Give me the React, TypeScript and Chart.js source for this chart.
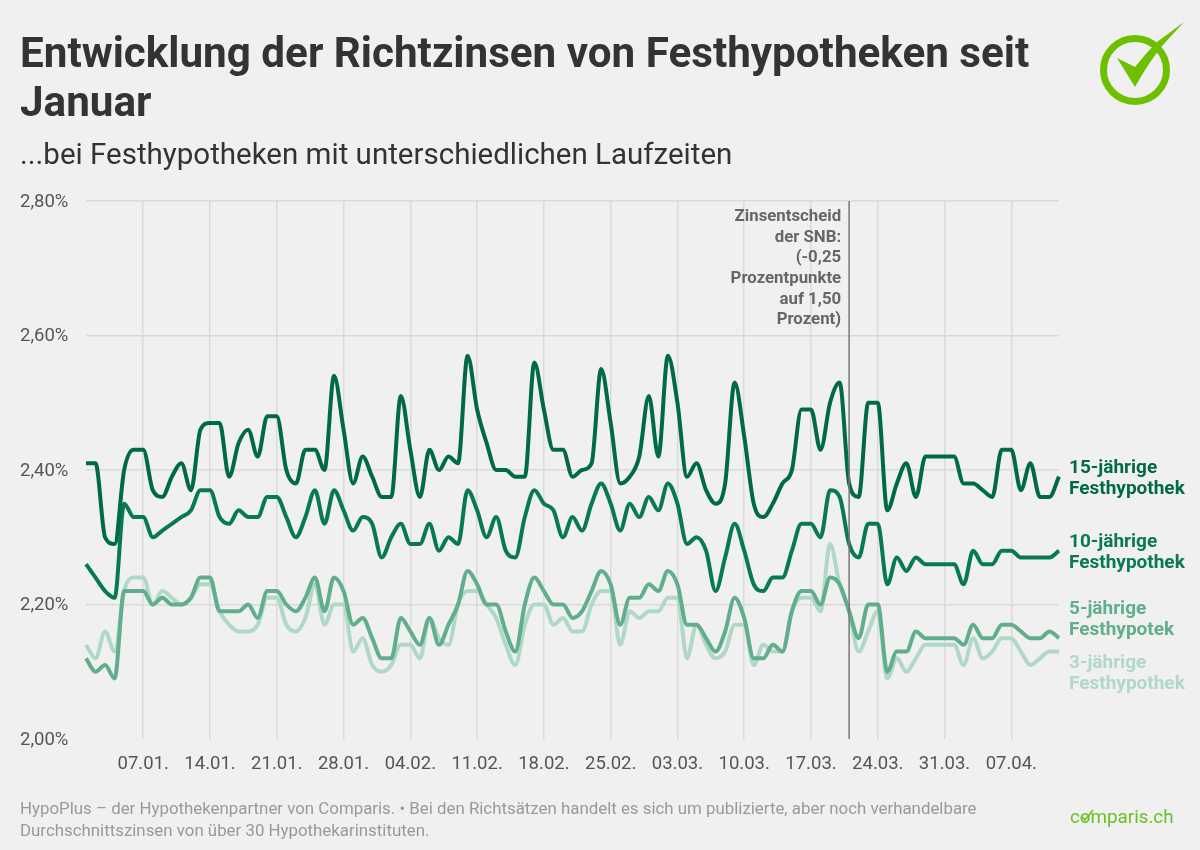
import React, { useEffect, useRef } from 'react';
import { Chart, registerables } from 'chart.js';

Chart.register(...registerables);

const days: string[] = [
  '01.01.', '02.01.', '03.01.', '04.01.', '05.01.', '06.01.', '07.01.', '08.01.', '09.01.', '10.01.', '11.01.', '12.01.', '13.01.', '14.01.', '15.01.', '16.01.',
  '17.01.', '18.01.', '19.01.', '20.01.', '21.01.', '22.01.', '23.01.', '24.01.', '25.01.', '26.01.', '27.01.', '28.01.', '29.01.', '30.01.', '31.01.',
  '01.02.', '02.02.', '03.02.', '04.02.', '05.02.', '06.02.', '07.02.', '08.02.', '09.02.', '10.02.', '11.02.', '12.02.', '13.02.', '14.02.', '15.02.',
  '16.02.', '17.02.', '18.02.', '19.02.', '20.02.', '21.02.', '22.02.', '23.02.', '24.02.', '25.02.', '26.02.', '27.02.', '28.02.', '29.02.',
  '01.03.', '02.03.', '03.03.', '04.03.', '05.03.', '06.03.', '07.03.', '08.03.', '09.03.', '10.03.', '11.03.', '12.03.', '13.03.', '14.03.', '15.03.', '16.03.',
  '17.03.', '18.03.', '19.03.', '20.03.', '21.03.', '22.03.', '23.03.', '24.03.', '25.03.', '26.03.', '27.03.', '28.03.', '29.03.', '30.03.', '31.03.',
  '01.04.', '02.04.', '03.04.', '04.04.', '05.04.', '06.04.', '07.04.', '08.04.', '09.04.', '10.04.', '11.04.', '12.04.',
];

const tickDays = ['07.01.', '14.01.', '21.01.', '28.01.', '04.02.', '11.02.', '18.02.', '25.02.', '03.03.', '10.03.', '17.03.', '24.03.', '31.03.', '07.04.'];

const rate15: number[] = [
  2.41, 2.41, 2.30, 2.29, 2.40, 2.43, 2.43, 2.37, 2.36, 2.39, 2.41, 2.37, 2.46, 2.47, 2.47, 2.39, 2.44, 2.46, 2.42, 2.48,
  2.48, 2.40, 2.38, 2.43, 2.43, 2.40, 2.54, 2.46, 2.38, 2.42, 2.39, 2.36, 2.36, 2.51, 2.43, 2.36, 2.43, 2.40, 2.42, 2.41,
  2.57, 2.49, 2.44, 2.40, 2.40, 2.39, 2.39, 2.56, 2.49, 2.43, 2.43, 2.39, 2.40, 2.41, 2.55, 2.47, 2.38, 2.39, 2.42, 2.51,
  2.42, 2.57, 2.50, 2.39, 2.41, 2.37, 2.35, 2.38, 2.53, 2.45, 2.35, 2.33, 2.35, 2.38, 2.40, 2.49, 2.49, 2.43, 2.50, 2.53,
  2.38, 2.36, 2.50, 2.50, 2.34, 2.38, 2.41, 2.36, 2.42, 2.42, 2.42, 2.42, 2.38, 2.38, 2.37, 2.36, 2.43, 2.43, 2.37, 2.41,
  2.36, 2.36, 2.39,
];

const rate10: number[] = [
  2.26, 2.24, 2.22, 2.21, 2.35, 2.33, 2.33, 2.30, 2.31, 2.32, 2.33, 2.34, 2.37, 2.37, 2.33, 2.32, 2.34, 2.33, 2.33, 2.36,
  2.36, 2.33, 2.30, 2.33, 2.37, 2.32, 2.37, 2.34, 2.31, 2.33, 2.32, 2.27, 2.30, 2.32, 2.29, 2.29, 2.32, 2.28, 2.30, 2.29,
  2.37, 2.34, 2.30, 2.33, 2.28, 2.27, 2.33, 2.37, 2.35, 2.34, 2.30, 2.33, 2.31, 2.35, 2.38, 2.35, 2.31, 2.35, 2.33, 2.36,
  2.34, 2.38, 2.35, 2.29, 2.30, 2.28, 2.22, 2.27, 2.32, 2.28, 2.23, 2.22, 2.24, 2.24, 2.28, 2.32, 2.32, 2.30, 2.37, 2.36,
  2.29, 2.27, 2.32, 2.32, 2.23, 2.27, 2.25, 2.27, 2.26, 2.26, 2.26, 2.26, 2.23, 2.28, 2.26, 2.26, 2.28, 2.28, 2.27, 2.27,
  2.27, 2.27, 2.28,
];

const rate5: number[] = [
  2.12, 2.10, 2.11, 2.09, 2.22, 2.22, 2.22, 2.20, 2.21, 2.20, 2.20, 2.21, 2.24, 2.24, 2.19, 2.19, 2.19, 2.20, 2.18, 2.22,
  2.22, 2.20, 2.19, 2.21, 2.24, 2.19, 2.24, 2.22, 2.17, 2.18, 2.15, 2.12, 2.12, 2.18, 2.16, 2.14, 2.18, 2.14, 2.17, 2.20,
  2.25, 2.23, 2.20, 2.20, 2.16, 2.13, 2.20, 2.24, 2.22, 2.20, 2.20, 2.18, 2.19, 2.22, 2.25, 2.23, 2.17, 2.21, 2.21, 2.23,
  2.22, 2.25, 2.23, 2.17, 2.17, 2.15, 2.13, 2.16, 2.21, 2.18, 2.12, 2.12, 2.14, 2.13, 2.19, 2.22, 2.22, 2.20, 2.24, 2.23,
  2.19, 2.15, 2.20, 2.20, 2.10, 2.13, 2.13, 2.16, 2.15, 2.15, 2.15, 2.15, 2.14, 2.17, 2.15, 2.15, 2.17, 2.17, 2.16, 2.15,
  2.15, 2.16, 2.15,
];

const rate3: number[] = [
  2.14, 2.12, 2.16, 2.13, 2.22, 2.24, 2.24, 2.20, 2.22, 2.21, 2.20, 2.21, 2.23, 2.23, 2.19, 2.17, 2.16, 2.16, 2.17, 2.21,
  2.21, 2.17, 2.16, 2.18, 2.23, 2.17, 2.20, 2.20, 2.13, 2.15, 2.11, 2.10, 2.11, 2.14, 2.14, 2.12, 2.18, 2.15, 2.14, 2.20,
  2.22, 2.22, 2.20, 2.18, 2.14, 2.11, 2.17, 2.20, 2.20, 2.17, 2.18, 2.16, 2.16, 2.20, 2.22, 2.22, 2.14, 2.19, 2.18, 2.19,
  2.19, 2.21, 2.21, 2.12, 2.17, 2.14, 2.12, 2.13, 2.17, 2.17, 2.11, 2.14, 2.13, 2.13, 2.19, 2.21, 2.21, 2.19, 2.29, 2.23,
  2.19, 2.13, 2.16, 2.19, 2.09, 2.12, 2.10, 2.12, 2.14, 2.14, 2.14, 2.14, 2.11, 2.15, 2.12, 2.13, 2.15, 2.15, 2.13, 2.11,
  2.12, 2.13, 2.13,
];

const yTicks = [2.0, 2.2, 2.4, 2.6, 2.8];

const seriesLabels = [
  { lines: ['15-jährige', 'Festhypothek'], color: '#006a46', at: 2.39 },
  { lines: ['10-jährige', 'Festhypothek'], color: '#087a50', at: 2.28 },
  { lines: ['5-jährige', 'Festhypotek'], color: '#60ae8c', at: 2.18 },
  { lines: ['3-jährige', 'Festhypothek'], color: '#b0d8c8', at: 2.10 },
];

const snbDay = '21.03.';
const snbNote = ['Zinsentscheid', 'der SNB:', '(-0,25', 'Prozentpunkte', 'auf 1,50', 'Prozent)'];

const fontFamily = 'Roboto, sans-serif';

const lineStyle = {
  borderWidth: 4,
  pointRadius: 0,
  fill: false,
  cubicInterpolationMode: 'monotone' as const,
  borderJoinStyle: 'round' as const,
  borderCapStyle: 'butt' as const,
  clip: false as const,
};

// SNB marker, y tick labels and the direct labels at the right end of the lines
const overlayPlugin = {
  id: 'overlay',
  afterDatasetsDraw(chart: Chart) {
    const { ctx, chartArea, scales } = chart;
    const x = scales.x.getPixelForValue(days.indexOf(snbDay));
    ctx.save();
    ctx.strokeStyle = '#777777';
    ctx.lineWidth = 1.5;
    ctx.beginPath();
    ctx.moveTo(x, chartArea.top);
    ctx.lineTo(x, chartArea.bottom);
    ctx.stroke();

    ctx.textBaseline = 'middle';
    ctx.font = `18.5px ${fontFamily}`;
    ctx.fillStyle = '#555555';
    ctx.textAlign = 'left';
    yTicks.forEach((value) => {
      const label = `${value.toFixed(2).replace('.', ',')}%`;
      ctx.fillText(label, 20, scales.y.getPixelForValue(value) + 1);
    });

    ctx.font = `700 16.8px ${fontFamily}`;
    ctx.fillStyle = '#666666';
    ctx.textAlign = 'right';
    snbNote.forEach((line, i) => {
      ctx.fillText(line, x - 8, chartArea.top + 16 + i * 20.6);
    });

    ctx.font = `700 19px ${fontFamily}`;
    ctx.textAlign = 'left';
    seriesLabels.forEach((label) => {
      const y = scales.y.getPixelForValue(label.at);
      ctx.fillStyle = label.color;
      ctx.fillText(label.lines[0], chartArea.right + 10, y - 8.5);
      ctx.fillText(label.lines[1], chartArea.right + 10, y + 12.5);
    });
    ctx.restore();
  },
};

const App: React.FC = () => {
  const chartRef = useRef<HTMLCanvasElement | null>(null);

  useEffect(() => {
    document.body.style.margin = '0';
    document.body.style.background = '#f0f0f0';
    if (!chartRef.current) return;

    const chart = new Chart(chartRef.current, {
      type: 'line',
      data: {
        labels: days,
        datasets: [
          { label: '15-jährige Festhypothek', data: rate15, borderColor: '#006a46', ...lineStyle },
          { label: '10-jährige Festhypothek', data: rate10, borderColor: '#087a50', ...lineStyle },
          { label: '5-jährige Festhypotek', data: rate5, borderColor: '#60ae8c', ...lineStyle },
          { label: '3-jährige Festhypothek', data: rate3, borderColor: '#b0d8c8', ...lineStyle },
        ],
      },
      options: {
        responsive: false,
        animation: false,
        layout: { padding: { top: 201, right: 141, bottom: 0, left: 20 } },
        plugins: { legend: { display: false }, tooltip: { enabled: false } },
        scales: {
          x: {
            offset: false,
            afterFit: (scale: any) => { scale.height = 111; },
            border: { display: false },
            grid: { color: '#dadada', lineWidth: 1.5, drawTicks: false },
            ticks: {
              autoSkip: false,
              maxRotation: 0,
              padding: 14,
              color: '#555555',
              font: { family: fontFamily, size: 18.5 },
              callback(_value: any, index: number) {
                return tickDays.includes(days[index]) ? days[index] : null;
              },
            },
          },
          y: {
            min: 2.0,
            max: 2.8,
            afterFit: (scale: any) => { scale.width = 66; },
            afterBuildTicks: (scale: any) => {
              scale.ticks = yTicks.map((value) => ({ value }));
            },
            border: { display: false },
            // no horizontal line at the bottom of the plot
            grid: {
              color: (ctx: any) => (ctx.tick && ctx.tick.value === 2.0 ? 'rgba(0,0,0,0)' : '#dadada'),
              lineWidth: 1.5,
              drawTicks: false,
            },
            ticks: { display: false },
          },
        },
      },
      plugins: [overlayPlugin],
    });

    return () => {
      chart.destroy();
    };
  }, []);

  return (
    <div style={{ position: 'relative', width: 1200, height: 850, overflow: 'hidden', background: '#f0f0f0', fontFamily }}>
      <canvas ref={chartRef} width={1200} height={850} style={{ position: 'absolute', left: 0, top: 0 }}></canvas>
      <div style={{ position: 'absolute', left: 20, top: 28, width: 1060, fontSize: 42.2, lineHeight: '49px', fontWeight: 700, color: '#333333' }}>
        Entwicklung der Richtzinsen von Festhypotheken seit Januar
      </div>
      <div style={{ position: 'absolute', left: 20, top: 135, fontSize: 29.5, lineHeight: '38px', color: '#333333' }}>
        ...bei Festhypotheken mit unterschiedlichen Laufzeiten
      </div>
      <div style={{ position: 'absolute', left: 20, top: 798, width: 1000, fontSize: 16.85, lineHeight: '21.5px', color: '#999999' }}>
        HypoPlus – der Hypothekenpartner von Comparis. • Bei den Richtsätzen handelt es sich um publizierte, aber noch verhandelbare Durchschnittszinsen von über 30 Hypothekarinstituten.
      </div>
      <div style={{ position: 'absolute', left: 1070, top: 803, fontSize: 18.8, lineHeight: '28px', color: '#6cc024' }}>
        comparis.ch
      </div>
      <svg width={20} height={20} viewBox="0 0 20 20" style={{ position: 'absolute', left: 1078, top: 806 }}>
        <path d="M3.5 10.5 L7 14 L15 4" fill="none" stroke="#6cc024" strokeWidth={1.6} />
      </svg>
      <svg width={100} height={100} viewBox="0 0 100 100" style={{ position: 'absolute', left: 1090, top: 15 }}>
        <circle cx={45} cy={55} r={31.5} fill="none" stroke="#6cc000" strokeWidth={7} />
        <path d="M27 43 L45 52 Q56 38 67 27 L94 7 L72 31 Q57 50 45 72 Z" fill="#6cc000" />
      </svg>
    </div>
  );
};

export default App;
